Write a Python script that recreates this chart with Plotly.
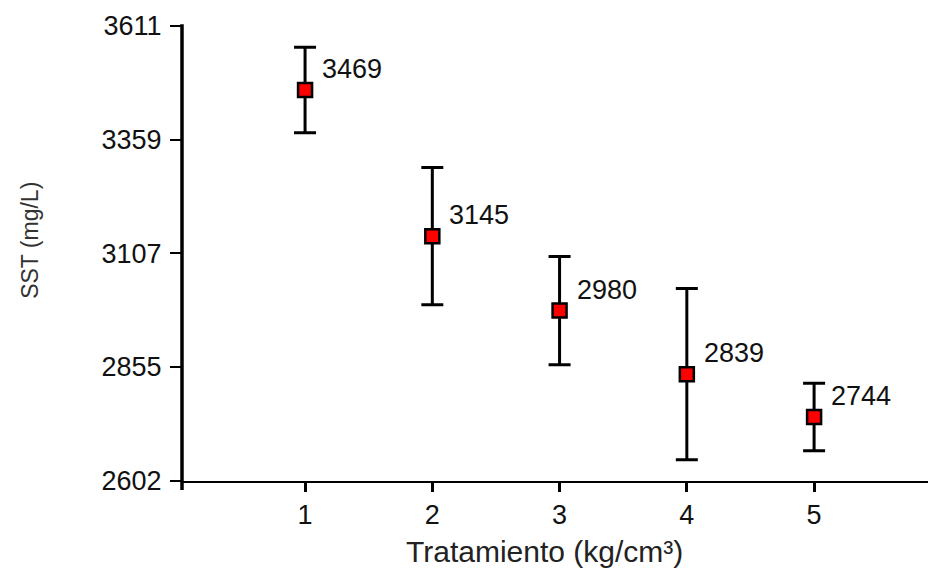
import plotly.graph_objects as go

treatments = [1, 2, 3, 4, 5]
means = [3469, 3145, 2980, 2839, 2744]
errors = [95, 152, 120, 190, 75]
y_ticks = [2602, 2855, 3107, 3359, 3611]
x_title = "Tratamiento (kg/cm³)"
y_title = "SST (mg/L)"

FONT = "Liberation Sans, Arial, sans-serif"

fig = go.Figure()
fig.add_trace(go.Scatter(
    x=treatments, y=means, mode="markers",
    marker=dict(symbol="square", size=14, color="#ff0000",
                line=dict(color="black", width=2.5)),
    error_y=dict(type="data", array=errors, visible=True,
                 color="black", thickness=3, width=11),
    showlegend=False, hoverinfo="x+y",
))

for x, y in zip(treatments, means):
    fig.add_annotation(x=x, y=y, text=str(y), showarrow=False,
                       xanchor="left", yanchor="middle",
                       xshift=15, yshift=21,
                       font=dict(family=FONT, size=27, color="#111"))

# axis titles
fig.add_annotation(xref="paper", yref="paper", x=-0.2016, y=0.53,
                   text=y_title, textangle=-90, showarrow=False,
                   xanchor="center", yanchor="middle",
                   font=dict(family=FONT, size=23, color="#333"))
fig.add_annotation(xref="paper", yref="paper", x=0.481, y=-0.114,
                   text=x_title, showarrow=False,
                   xanchor="center", yanchor="top",
                   font=dict(family=FONT, size=30, color="#222"))

# thick y axis line extending slightly below x axis
fig.add_shape(type="line", xref="paper", yref="paper",
              x0=0, x1=0, y0=-0.02, y1=1.004,
              line=dict(color="black", width=3.5))

# page body has an 8px margin: shrink the figure so the plot lands in place
fig.update_layout(
    width=928, height=563,
    margin=dict(l=174, r=0, t=18, b=90),
    paper_bgcolor="white", plot_bgcolor="white",
    xaxis=dict(range=[0.033, 5.958], tickvals=treatments,
               showgrid=False, zeroline=False,
               showline=True, linecolor="black", linewidth=1.5,
               ticks="outside", ticklen=9, tickwidth=3, tickcolor="black",
               tickfont=dict(family=FONT, size=27, color="#111")),
    yaxis=dict(range=[2602, 3611], tickvals=y_ticks,
               showgrid=False, zeroline=False, showline=False,
               ticks="outside", ticklen=11, tickwidth=1.5, tickcolor="black",
               ticklabelstandoff=3,
               tickfont=dict(family=FONT, size=27, color="#111")),
)

fig.write_html("out.html")
